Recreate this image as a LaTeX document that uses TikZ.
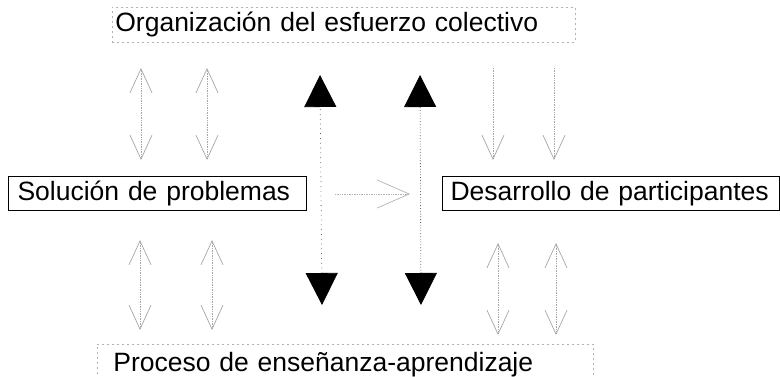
\documentclass[tikz,border=0pt]{standalone}
\usepackage{fontspec}
\setmainfont{Liberation Sans}
\usetikzlibrary{arrows.meta}

\begin{document}
\begin{tikzpicture}[x=1pt,y=-1pt]
	\tikzstyle{every node}+=[inner sep=0pt, font=\fontsize{26.5}{30}\selectfont]
	\tikzstyle{faintbox}=[draw=gray!60, dash pattern=on 2pt off 3pt, line width=0.7pt, align=left]
	\tikzstyle{linebox}=[draw=black, line width=1.1pt, align=left]
	\tikzstyle{thinarrow}=[gray!70, densely dotted, line width=0.7pt, {Straight Barb[length=24pt,width=22pt]}-{Straight Barb[length=24pt,width=22pt]}]
	\tikzstyle{downarrow}=[gray!70, densely dotted, line width=0.7pt, -{Straight Barb[length=24pt,width=22pt]}]
	\tikzstyle{bigarrow}=[black!60, dotted, line width=0.8pt, {Triangle[length=32pt,width=32pt,fill=black,color=black]}-{Triangle[length=32pt,width=32pt,fill=black,color=black]}]
	\useasboundingbox (0,0) rectangle (780,377);
	% the four boxes
	\node [faintbox, anchor=north west, minimum width=463pt, minimum height=35pt, inner xsep=3pt, text width=457pt] (org) at (112,7) {Organización del esfuerzo colectivo};
	\node [linebox, anchor=north west, minimum width=298pt, minimum height=34pt, inner xsep=9pt, text width=280pt] (sol) at (8,176) {Solución de problemas};
	\node [linebox, anchor=north west, minimum width=337pt, minimum height=34pt, inner xsep=8pt, text width=321pt] (des) at (442,176) {Desarrollo de participantes};
	\node [faintbox, anchor=north west, minimum width=496pt, minimum height=40pt, inner xsep=16pt, text width=464pt] (pro) at (97,344) {Proceso de enseñanza-aprendizaje};
	% arrow ends
	\coordinate (ta1) at (141,68);  \coordinate (tb1) at (141,160);
	\coordinate (ta2) at (207,68);  \coordinate (tb2) at (207,160);
	\coordinate (ta3) at (493,68);  \coordinate (tb3) at (493,160);
	\coordinate (ta4) at (554,68);  \coordinate (tb4) at (554,160);
	\coordinate (ba1) at (140,240); \coordinate (bb1) at (140,330);
	\coordinate (ba2) at (212,240); \coordinate (bb2) at (212,330);
	\coordinate (ba3) at (498,243); \coordinate (bb3) at (498,335);
	\coordinate (ba4) at (556,243); \coordinate (bb4) at (556,335);
	\coordinate (up1) at (320,75);  \coordinate (dn1) at (322,305);
	\coordinate (up2) at (420,75);  \coordinate (dn2) at (421,305);
	\coordinate (ml) at (335,194);  \coordinate (mr) at (410,194);
	% small arrows
	\draw [thinarrow] (ta1) -- (tb1);
	\draw [thinarrow] (ta2) -- (tb2);
	\draw [downarrow] (ta3) -- (tb3);
	\draw [downarrow] (ta4) -- (tb4);
	\draw [thinarrow] (ba1) -- (bb1);
	\draw [thinarrow] (ba2) -- (bb2);
	\draw [thinarrow] (ba3) -- (bb3);
	\draw [thinarrow] (ba4) -- (bb4);
	% big arrows
	\draw [bigarrow, loosely dotted] (dn1) -- (up1);
	\draw [bigarrow] (dn2) -- (up2);
	\draw [gray!60, densely dotted, line width=0.7pt, -{Straight Barb[length=32pt,width=28pt]}] (ml) -- (mr);
\end{tikzpicture}
\end{document}
